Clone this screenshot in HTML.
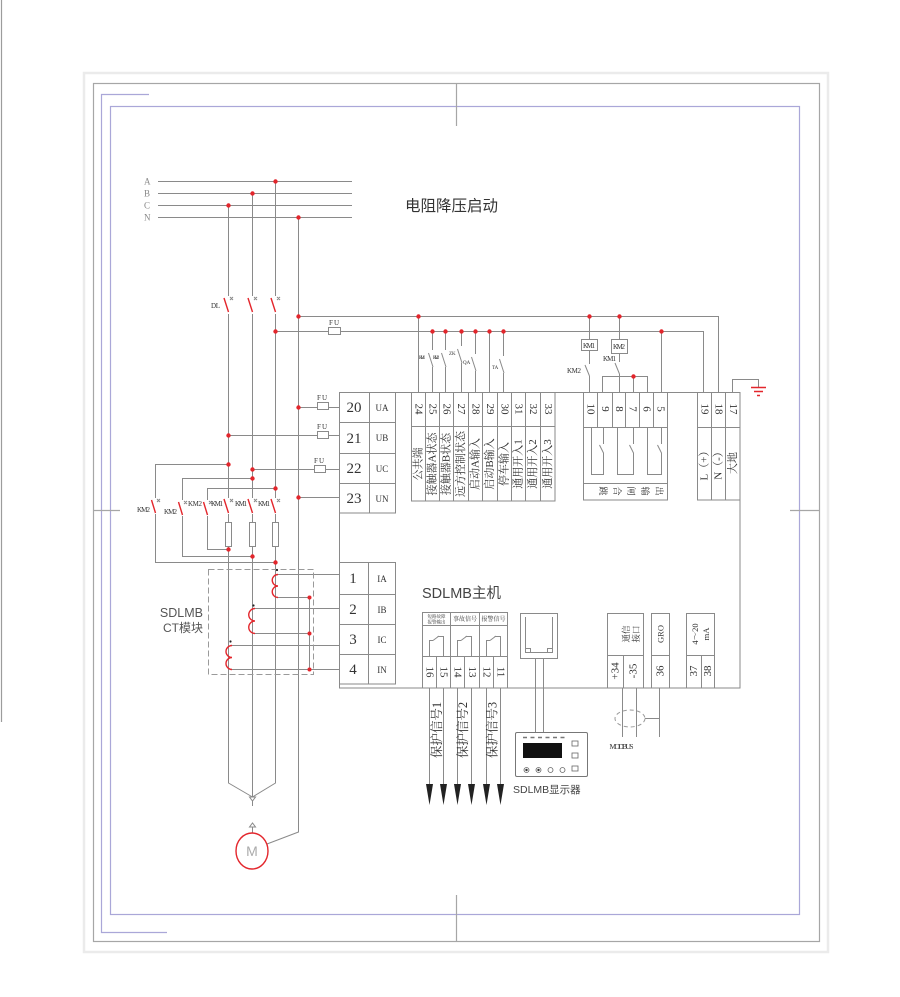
<!DOCTYPE html>
<html><head><meta charset="utf-8">
<style>
html,body{margin:0;padding:0;background:#fff;}
svg{display:block;}
text{font-family:"Liberation Serif","Noto Serif CJK SC",serif;fill:#333;}
.s{font-family:"Liberation Sans","Noto Sans CJK SC",sans-serif;}
</style></head><body>
<svg width="900" height="997" viewBox="0 0 900 997" xmlns="http://www.w3.org/2000/svg">
<rect width="900" height="997" fill="#fff"/>
<!-- frame -->
<line x1="1.5" y1="0" x2="1.5" y2="722" stroke="#9c9c9c" stroke-width="1.2"/>
<rect x="84" y="73" width="744" height="879" fill="none" stroke="#ebebeb" stroke-width="2.5"/>
<rect x="93.5" y="83.5" width="726" height="858" fill="none" stroke="#a6a6a6" stroke-width="1.2"/>
<rect x="110.5" y="106.5" width="689" height="808" fill="none" stroke="#aaa7d8" stroke-width="1.2"/>
<path d="M149,94.5 H101.5 V932.5 H167" fill="none" stroke="#aaa7d8" stroke-width="1.2"/>
<path d="M456.5,83 V126 M456.5,895 V942 M93,510.5 H120 M790,510.5 H820" stroke="#a6a6a6" stroke-width="1.2"/>

<!-- wires -->
<g stroke="#8a8a8a" stroke-width="1" fill="none">
<path d="M158,181.5H352 M158,193.5H352 M158,205.5H352 M158,217.5H352"/>
<path d="M228.5,205V296 M228.5,314V498 M228.5,514V522 M228.5,546V783 L252.5,797"/>
<path d="M252.5,193V296 M252.5,314V498 M252.5,514V522 M252.5,546V797"/>
<path d="M275.5,181V296 M275.5,314V498 M275.5,514V522 M275.5,546V783 L252.5,797"/>
<path d="M252.5,801V806 M252.5,827V833"/>
<path d="M298.5,217V832 L267,844"/>
<path d="M228.5,464.5H155.5V498 M155.5,514V562.5H275.5"/>
<path d="M252.5,478.5H182.5V500 M182.5,516V556.5H252.5"/>
<path d="M275.5,488.5H207.5V500 M207.5,516V549.5H228.5"/>
<path d="M298.5,407.5H339 M228.5,435.5H339 M252.5,469.5H339 M298.5,497.5H339"/>
<path d="M298.5,316.5H718.5V392 M275.5,331.5H703.5V392 M418.5,316.5V392"/>
<path d="M432.5,331V350 M428.5,353L433,367 M432.5,367V392"/>
<path d="M445.5,331V350 M441.5,353L446,367 M445.5,367V392"/>
<path d="M461.5,331V346 M457.5,349L462,363 M461.5,363V392"/>
<path d="M475.5,331V354 M471.5,357L476,371 M475.5,371V392"/>
<path d="M489.5,331V392"/>
<path d="M503.5,331V356 M499.5,359L504,373 M503.5,373V392"/>
<path d="M589.5,316V339 M589.5,350V364 M585,365L589.5,376 M589.5,376V392"/>
<path d="M619.5,316V339 M619.5,353V362 M615,363L619.5,374 M619.5,374V392"/>
<path d="M602.5,392V376.5H647.5V392 M633.5,376.5V392 M661.5,331V392"/>
<path d="M732.5,392V379.5H758.5V387"/>
<path d="M278,574.5H339 M278,597.5H309.5 M255,608.5H339 M255,633.5H309.5 M232,645.5H339 M232,669.5H339 M309.5,597V670"/>
<path d="M429.5,688V786 M443.5,688V786 M457.5,688V786 M471.5,688V786 M486.5,688V786 M500.5,688V786"/>
<path d="M535.5,658V732 M543.5,658V732"/>
<path d="M622.5,688V737 M636.5,688V737 M645,718.5H659.5 M659.5,688V737"/>
<path d="M230,297l3,3 M233,297l-3,3 M254,297l3,3 M257,297l-3,3 M277,297l3,3 M280,297l-3,3"/>
<path d="M230,499l3,3 M233,499l-3,3 M254,499l3,3 M257,499l-3,3 M277,499l3,3 M280,499l-3,3 M157,499l3,3 M160,499l-3,3 M184,501l3,3 M187,501l-3,3 M209,501l3,3 M212,501l-3,3"/>
<path d="M249.5,797H255.5L252.5,801Z M249.5,827H255.5L252.5,823Z"/>
</g>

<g stroke="#8a8a8a" stroke-width="1" fill="#fff">
<rect x="225.5" y="522.5" width="6" height="24"/>
<rect x="249.5" y="522.5" width="6" height="24"/>
<rect x="272.5" y="522.5" width="6" height="24"/>
<rect x="317.5" y="402.5" width="11" height="7"/>
<rect x="317.5" y="431.5" width="11" height="7"/>
<rect x="314.5" y="465.5" width="11" height="7"/>
<rect x="328.5" y="327.5" width="12" height="7"/>
<rect x="581.5" y="339.5" width="16" height="11"/>
<rect x="611.5" y="339.5" width="16" height="14"/>
</g>

<g stroke="#8a8a8a" stroke-width="1" fill="none">
<rect x="339.5" y="392.5" width="400.5" height="295.5"/>
<rect x="339.5" y="392.5" width="56" height="120.5"/>
<path d="M369.5,392.5V513 M339.5,422.5H395.5 M339.5,453.5H395.5 M339.5,483.5H395.5"/>
<rect x="339.5" y="562.5" width="56" height="121.5"/>
<path d="M368.5,562.5V684 M339.5,594.5H395.5 M339.5,624.5H395.5 M339.5,654.5H395.5"/>
<rect x="411.5" y="392.5" width="143.5" height="108.5"/>
<path d="M411.5,426.5H555 M425.5,392.5V501 M439.5,392.5V501 M453.5,392.5V501 M468.5,392.5V501 M482.5,392.5V501 M497.5,392.5V501 M511.5,392.5V501 M525.5,392.5V501 M540.5,392.5V501"/>
<rect x="583.5" y="392.5" width="84" height="107.5"/>
<path d="M583.5,427.5H667.5 M583.5,483.5H667.5 M597.5,392.5V427.5 M612.5,392.5V427.5 M625.5,392.5V427.5 M639.5,392.5V427.5 M653.5,392.5V427.5"/>
<path d="M591.5,427.5V474.5H603.5V453 L599.5,445 M603.5,444V427.5"/>
<path d="M617.5,427.5V474.5H633.5V453 L629.5,445 M633.5,444V427.5"/>
<path d="M647.5,427.5V474.5H661.5V453 L657.5,445 M661.5,444V427.5"/>
<rect x="697.5" y="392.5" width="42.5" height="107.5"/>
<path d="M711.5,392.5V500 M725.5,392.5V500 M697.5,427.5H740"/>
<rect x="422.5" y="612.5" width="85" height="75.5"/>
<path d="M422.5,625.5H507.5 M422.5,656.5H507.5 M450.5,612.5V688 M479.5,612.5V688 M436.5,656.5V688 M464.5,656.5V688 M493.5,656.5V688"/>
<path d="M429.5,656V640.5H433 M433,640.5L439,636 M437.5,636.5H443.5V656"/>
<path d="M457.5,656V640.5H461 M461,640.5L467,636 M465.5,636.5H471.5V656"/>
<path d="M486.5,656V640.5H490 M490,640.5L496,636 M494.5,636.5H500.5V656"/>
<rect x="607.5" y="613.5" width="36" height="74.5"/>
<path d="M607.5,655.5H643.5 M623.5,655.5V688"/>
<rect x="651.5" y="613.5" width="18" height="74.5"/>
<path d="M651.5,655.5H669.5"/>
<rect x="686.5" y="613.5" width="28" height="74.5"/>
<path d="M686.5,655.5H714.5 M701.5,655.5V688"/>
<rect x="520.5" y="613.5" width="37" height="45"/>
<path d="M525.5,617V652.5H552.5V617 M525.5,648.5H530.5V652.5 M552.5,648.5H547.5V652.5"/>
<rect x="208.5" y="569.5" width="105" height="105" stroke="#9a9a9a" stroke-dasharray="6,3"/>
<ellipse cx="630" cy="718.5" rx="15" ry="8.5" stroke="#9a9a9a" stroke-dasharray="4,3"/>
</g>

<rect x="515.5" y="732.5" width="72" height="44" rx="1.5" fill="#fff" stroke="#777"/>
<path d="M523,737.5H568" stroke="#777" stroke-width="1.5" stroke-dasharray="4,3.5"/>
<rect x="523" y="743" width="39" height="15" fill="#111"/>
<g fill="#fff" stroke="#666" stroke-width="0.8">
<rect x="572" y="741" width="6" height="5"/>
<rect x="572" y="753" width="6" height="5"/>
<rect x="572" y="766" width="6" height="5"/>
<circle cx="526.5" cy="770" r="2.5"/>
<circle cx="538.5" cy="770" r="2.5"/>
<circle cx="550.5" cy="770" r="2.5"/>
<circle cx="562.5" cy="770" r="2.5"/>
</g>
<circle cx="526.5" cy="770" r="1.2" fill="#333"/>
<circle cx="538.5" cy="770" r="1.2" fill="#333"/>

<g fill="#222">
<path d="M426,784H433L429.5,805Z"/>
<path d="M440,784H447L443.5,805Z"/>
<path d="M454,784H461L457.5,805Z"/>
<path d="M468,784H475L471.5,805Z"/>
<path d="M483,784H490L486.5,805Z"/>
<path d="M497,784H504L500.5,805Z"/>
</g>

<g stroke="#e3262c" stroke-width="1.4" fill="none">
<path d="M224,298L228.5,312 M248,298L252.5,312 M271,298L275.5,312"/>
<path d="M224,499L228.5,513 M248,499L252.5,513 M271,499L275.5,513"/>
<path d="M151.5,500L155.5,513 M178.5,502L182.5,515 M203.5,502L207.5,515"/>
<path d="M278,574.5 A5.75,5.75 0 0 0 278,586 A5.75,5.75 0 0 0 278,597.5"/>
<path d="M255,608.5 A6.25,6.25 0 0 0 255,621 A6.25,6.25 0 0 0 255,633.5"/>
<path d="M232,645.5 A6,6 0 0 0 232,657.5 A6,6 0 0 0 232,669.5"/>
<ellipse cx="252" cy="851" rx="16" ry="18"/>
<path d="M751,387.5H766 M754,391.5H763 M757,395.5H760"/>
</g>
<g fill="#e3262c">
<circle cx="275.5" cy="181.5" r="2.2"/><circle cx="252.5" cy="193.5" r="2.2"/><circle cx="228.5" cy="205.5" r="2.2"/><circle cx="298.5" cy="217.5" r="2.2"/>
<circle cx="298.5" cy="316.5" r="2.2"/><circle cx="275.5" cy="331.5" r="2.2"/><circle cx="418.5" cy="316.5" r="2.2"/>
<circle cx="432.5" cy="331.5" r="2.2"/><circle cx="445.5" cy="331.5" r="2.2"/><circle cx="461.5" cy="331.5" r="2.2"/><circle cx="475.5" cy="331.5" r="2.2"/><circle cx="489.5" cy="331.5" r="2.2"/><circle cx="503.5" cy="331.5" r="2.2"/>
<circle cx="589.5" cy="316.5" r="2.2"/><circle cx="619.5" cy="316.5" r="2.2"/><circle cx="661.5" cy="331.5" r="2.2"/><circle cx="633.5" cy="376.5" r="2.2"/>
<circle cx="298.5" cy="407.5" r="2.2"/><circle cx="228.5" cy="435.5" r="2.2"/><circle cx="252.5" cy="469.5" r="2.2"/><circle cx="298.5" cy="497.5" r="2.2"/>
<circle cx="228.5" cy="464.5" r="2.2"/><circle cx="252.5" cy="478.5" r="2.2"/><circle cx="275.5" cy="488.5" r="2.2"/>
<circle cx="228.5" cy="549.5" r="2.2"/><circle cx="252.5" cy="556.5" r="2.2"/><circle cx="275.5" cy="562.5" r="2.2"/>
<circle cx="309.5" cy="597.5" r="2"/><circle cx="309.5" cy="633.5" r="2"/><circle cx="309.5" cy="669.5" r="2"/>
</g>
<g fill="#222">
<circle cx="277" cy="570" r="1.1"/><circle cx="253.5" cy="605.5" r="1.1"/><circle cx="230.5" cy="641.5" r="1.1"/>
</g>

<g class="s" font-size="9" style="fill:#888">
<text x="144" y="184.5" style="fill:#888">A</text>
<text x="144" y="196.5" style="fill:#888">B</text>
<text x="144" y="208.5" style="fill:#888">C</text>
<text x="144" y="220.5" style="fill:#888">N</text>
</g>
<text class="s" x="405" y="211" font-size="15.5" style="fill:#333">电阻降压启动</text>
<text x="211" y="308" font-size="7" textLength="9">DL</text>
<g font-size="7">
<text x="317" y="400" textLength="10">FU</text>
<text x="317" y="429" textLength="10">FU</text>
<text x="314" y="463" textLength="10">FU</text>
<text x="329" y="325" textLength="10">FU</text>
</g>
<g font-size="7">
<text x="137" y="512" textLength="13">KM2</text>
<text x="164" y="514" textLength="13">KM2</text>
<text x="188" y="506" textLength="14">KM2</text>
<text x="211" y="506" textLength="12">KM1</text>
<text x="235" y="506" textLength="12">KM1</text>
<text x="258" y="506" textLength="12">KM1</text>
</g>
<g font-size="5">
<text x="419" y="359" textLength="6">KM1</text>
<text x="433" y="359" textLength="6">KM2</text>
<text x="449" y="355">ZK</text>
<text x="463" y="364">QA</text>
<text x="492" y="369">TA</text>
</g>
<g font-size="7">
<text x="583" y="348" textLength="12">KM1</text>
<text x="613" y="349" textLength="12">KM2</text>
<text x="603" y="361" textLength="13">KM1</text>
<text x="567" y="373" textLength="14">KM2</text>
</g>
<g font-size="15" text-anchor="middle">
<text x="354" y="412">20</text>
<text x="354" y="443">21</text>
<text x="354" y="473">22</text>
<text x="354" y="503">23</text>
<text x="353" y="583">1</text>
<text x="353" y="614">2</text>
<text x="353" y="644">3</text>
<text x="353" y="674">4</text>
</g>
<g font-size="9" text-anchor="middle">
<text x="382" y="411">UA</text>
<text x="382" y="441">UB</text>
<text x="382" y="472">UC</text>
<text x="382" y="502">UN</text>
<text x="382" y="582">IA</text>
<text x="382" y="613">IB</text>
<text x="382" y="643">IC</text>
<text x="382" y="673">IN</text>
</g>
<g font-size="11" text-anchor="middle" dominant-baseline="central">
<text transform="translate(418.5,409) rotate(90)">24</text>
<text transform="translate(432.5,409) rotate(90)">25</text>
<text transform="translate(446.5,409) rotate(90)">26</text>
<text transform="translate(461,409) rotate(90)">27</text>
<text transform="translate(475.5,409) rotate(90)">28</text>
<text transform="translate(490,409) rotate(90)">29</text>
<text transform="translate(504.5,409) rotate(90)">30</text>
<text transform="translate(518.5,409) rotate(90)">31</text>
<text transform="translate(533,409) rotate(90)">32</text>
<text transform="translate(548,409) rotate(90)">33</text>
<text transform="translate(590.5,409) rotate(90)">10</text>
<text transform="translate(605,409) rotate(90)">9</text>
<text transform="translate(619,409) rotate(90)">8</text>
<text transform="translate(632.5,409) rotate(90)">7</text>
<text transform="translate(646.5,409) rotate(90)">6</text>
<text transform="translate(660.5,409) rotate(90)">5</text>
<text transform="translate(704.5,409) rotate(90)">19</text>
<text transform="translate(718.5,409) rotate(90)">18</text>
<text transform="translate(733,409) rotate(90)">17</text>
<text transform="translate(429.5,672) rotate(90)">16</text>
<text transform="translate(443.5,672) rotate(90)">15</text>
<text transform="translate(457.5,672) rotate(90)">14</text>
<text transform="translate(472,672) rotate(90)">13</text>
<text transform="translate(486.5,672) rotate(90)">12</text>
<text transform="translate(500.5,672) rotate(90)">11</text>
<text transform="translate(615.5,671) rotate(-90)">+34</text>
<text transform="translate(633.5,671) rotate(-90)">-35</text>
<text transform="translate(660.5,671) rotate(-90)">36</text>
<text transform="translate(694,671) rotate(-90)">37</text>
<text transform="translate(708,671) rotate(-90)">38</text>
</g>
<g font-size="11" text-anchor="middle" dominant-baseline="central">
<text transform="translate(418.5,464) rotate(-90)">公共端</text>
<text transform="translate(432.5,464) rotate(-90)">接触器A状态</text>
<text transform="translate(446.5,464) rotate(-90)">接触器B状态</text>
<text transform="translate(461,464) rotate(-90)">远方控制状态</text>
<text transform="translate(475.5,464) rotate(-90)">启动A输入</text>
<text transform="translate(490,464) rotate(-90)">启动B输入</text>
<text transform="translate(504.5,464) rotate(-90)">停车输入</text>
<text transform="translate(518.5,464) rotate(-90)">通用开入1</text>
<text transform="translate(533,464) rotate(-90)">通用开入2</text>
<text transform="translate(548,464) rotate(-90)">通用开入3</text>
<text transform="translate(704.5,463) rotate(-90)">L（+）</text>
<text transform="translate(718.5,463) rotate(-90)">N（-）</text>
<text transform="translate(733,463) rotate(-90)">大地</text>
</g>
<g font-size="9" text-anchor="middle" dominant-baseline="central">
<text transform="translate(603,491) rotate(90)">跳</text>
<text transform="translate(617,491) rotate(90)">合</text>
<text transform="translate(631,491) rotate(90)">闸</text>
<text transform="translate(645,491) rotate(90)">输</text>
<text transform="translate(659,491) rotate(90)">出</text>
</g>
<g font-size="8.5" text-anchor="middle" dominant-baseline="central">
<text transform="translate(626,634) rotate(-90)">通信</text>
<text transform="translate(636,634) rotate(-90)">接口</text>
<text transform="translate(660.5,634) rotate(-90)">GRO</text>
<text transform="translate(695,634) rotate(-90)">4～20</text>
<text transform="translate(706,634) rotate(-90)">mA</text>
</g>
<g font-size="4.5" text-anchor="middle">
<text x="436.5" y="618">短路故障</text>
<text x="436.5" y="623.5">报警输出</text>
</g>
<g font-size="6" text-anchor="middle">
<text x="465" y="621">事故信号</text>
<text x="493.5" y="621">报警信号</text>
</g>
<g font-size="12.5" text-anchor="middle" dominant-baseline="central">
<text transform="translate(437,730) rotate(-90)">保护信号1</text>
<text transform="translate(463,730) rotate(-90)">保护信号2</text>
<text transform="translate(492.5,730) rotate(-90)">保护信号3</text>
</g>
<text class="s" x="422" y="598" font-size="14.5" style="fill:#444">SDLMB主机</text>
<text class="s" x="203" y="617" font-size="12.5" style="fill:#555" text-anchor="end">SDLMB</text>
<text class="s" x="203" y="632" font-size="12" style="fill:#555" text-anchor="end">CT模块</text>
<text class="s" x="513" y="793" font-size="10.5" style="fill:#444">SDLMB显示器</text>
<text x="621.5" y="749" font-size="7.5" text-anchor="middle" textLength="24">MODBUS</text>
<text class="s" x="252" y="856" font-size="14" style="fill:#aaa" text-anchor="middle">M</text>
</svg>
</body></html>
